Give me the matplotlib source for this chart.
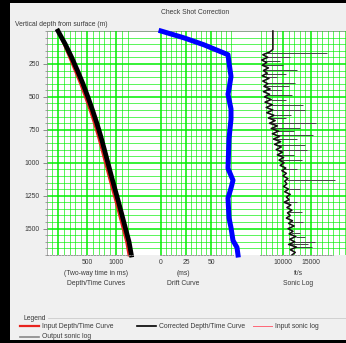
import matplotlib
matplotlib.use('Agg')
import matplotlib.pyplot as plt
import numpy as np
from matplotlib.ticker import MultipleLocator, FixedLocator
from matplotlib.lines import Line2D
from matplotlib.patches import Rectangle

plt.rcParams['font.family'] = ['Liberation Sans', 'DejaVu Sans']

# depth/time curves (depth m, two-way time ms)
dt_depth = [0, 100, 200, 300, 400, 500, 600, 700, 800, 900, 1000, 1100, 1200,
            1300, 1400, 1500, 1600, 1700]
t_corrected = [0, 125, 235, 335, 430, 515, 595, 670, 738, 800, 860, 920, 982,
               1045, 1105, 1165, 1225, 1265]
t_input = [0, 105, 200, 295, 388, 472, 552, 627, 695, 757, 817, 877, 939,
           1002, 1062, 1122, 1182, 1222]

# drift curve (depth m, drift ms)
drift_depth = [0, 52, 105, 158, 180, 240, 345, 442, 480, 592, 668, 818, 1043,
               1133, 1193, 1268, 1418, 1493, 1590, 1643, 1700]
drift_ms = [0, 23, 43, 60, 67, 68, 70, 68, 67, 70, 70, 68, 67,
            72, 70, 67, 68, 70, 72, 76, 77]

# sonic log (depth m, velocity ft/s)
sonic_depth = [0, 140, 160, 180, 200, 220, 240, 260, 280, 300, 320, 340, 360,
               380, 400, 420, 440, 460, 480, 500, 520, 540, 560, 580, 600,
               620, 640, 660, 680, 700, 720, 740, 760, 780, 800, 820, 840,
               860, 880, 900, 920, 940, 960, 980, 1000, 1020, 1040, 1060,
               1080, 1100, 1120, 1140, 1160, 1180, 1200, 1220, 1240, 1260,
               1280, 1300, 1320, 1340, 1360, 1380, 1400, 1420, 1440, 1460,
               1480, 1500, 1520, 1540, 1560, 1580, 1600, 1620, 1640, 1660,
               1680, 1700]
sonic_out = [8200, 8200, 7600, 6400, 7300, 6200, 7100, 6300, 7400, 6500, 7200,
             6300, 7500, 6400, 7300, 6600, 7700, 6500, 7600, 6700, 7900, 6800,
             8100, 7000, 8200, 7100, 8400, 7400, 8600, 7600, 9000, 7900, 9200,
             8100, 9400, 8300, 9600, 8500, 9700, 8800, 9900, 9000, 10100, 9300,
             10200, 9500, 10500, 9800, 10600, 10000, 10900, 10300, 10700,
             10100, 11000, 10300, 11300, 10600, 11100, 10200, 11400, 10700,
             11600, 10800, 11300, 10600, 11700, 11000, 12000, 10900, 11800,
             11100, 12300, 11200, 12100, 11000, 12400, 11300, 12200, 11600]
spike_depth = [167, 197, 230, 260, 296, 330, 350, 394, 420, 450, 485, 520,
               561, 599, 640, 660, 697, 735, 760, 788, 820, 864, 902, 940,
               978, 1050, 1129, 1200, 1300, 1372, 1450, 1530, 1560, 1599,
               1620, 1637]
spike_val = [17860, 11250, 9500, 10000, 12500, 10500, 9000, 12140, 11000,
             9800, 11600, 10500, 13570, 13930, 11500, 10500, 15900, 13040,
             12000, 15360, 12500, 13930, 14290, 12000, 13400, 12500, 19290,
             13000, 12500, 13400, 13500, 13000, 14000, 15710, 14500, 15180]

W, H = 346, 343
def fx(p):
    return p / W
def fy(p):
    return 1 - p / H

fig = plt.figure(figsize=(W / 100, H / 100), dpi=100)
fig.patch.set_facecolor('#f0f0f0')

green = '#00ee00'
txt = '#3a3a3a'
fs = 4.9

# background with horizontal grid
bg = fig.add_axes([fx(47), fy(255), fx(346) - fx(47), fy(31) - fy(255)])
bg.set_facecolor('white')
bg.set_ylim(1700, 0)
bg.set_xlim(0, 1)
bg.yaxis.set_major_locator(FixedLocator([250, 500, 750, 1000, 1250, 1500]))
bg.yaxis.set_minor_locator(MultipleLocator(50))
bg.set_xticks([])
bg.grid(axis='y', which='major', color=green, lw=1.1)
bg.grid(axis='y', which='minor', color=green, lw=0.6, alpha=0.75)
bg.tick_params(axis='y', which='major', labelsize=fs, labelcolor=txt,
               length=3, width=0.5, color='#666666', pad=2)
bg.tick_params(axis='y', which='minor', length=1.5, width=0.4, color='#666666')
for s in ['right', 'bottom']:
    bg.spines[s].set_visible(False)
bg.spines['top'].set_color('#999999')
bg.spines['top'].set_linewidth(0.6)
bg.spines['left'].set_color('#888888')
bg.spines['left'].set_linewidth(0.5)
bg.set_axisbelow(True)

def panel(x0, x1, xlim, major, labels, minor, label, lab_x, bound=None):
    ax = fig.add_axes([fx(x0), fy(255), (x1 - x0) / W, fy(31) - fy(255)])
    ax.set_facecolor('none')
    ax.set_xlim(*xlim)
    ax.set_ylim(1700, 0)
    ax.set_yticks([])
    ax.xaxis.set_major_locator(FixedLocator(major))
    ax.set_xticklabels(labels)
    ax.xaxis.set_minor_locator(MultipleLocator(minor))
    ax.grid(axis='x', which='major', color=green, lw=1.1)
    ax.grid(axis='x', which='minor', color=green, lw=0.6, alpha=0.75)
    ax.set_axisbelow(True)
    for s in ['top', 'left', 'right']:
        ax.spines[s].set_visible(False)
    ax.spines['bottom'].set_color('#888888')
    ax.spines['bottom'].set_linewidth(0.6)
    ax.spines['bottom'].set_linestyle((0, (2, 1.5)))
    if bound is not None:
        ax.spines['bottom'].set_bounds(*bound)
    ax.tick_params(axis='x', which='major', labelsize=fs, labelcolor=txt,
                   length=0, pad=3)
    ax.tick_params(axis='x', which='minor', length=0)
    ax.set_xlabel(label, fontsize=fs, color=txt, linespacing=1.6,
                  va='top', ha='center')
    ax.xaxis.set_label_coords((lab_x - x0) / (x1 - x0), -0.066)
    return ax

ax1 = panel(47, 133, (-190, 1293), [0, 500, 1000], ['', '500', '1000'], 100,
            '(Two-way time in ms)\nDepth/Time Curves', 96)
ax1.plot(t_input, dt_depth, color='#e8231e', lw=2.0, clip_on=False)
ax1.plot(t_corrected, dt_depth, color='black', lw=3.4, clip_on=False)

ax2 = panel(160, 233, (-1, 72), [0, 25, 50], ['0', '25', '50'], 5,
            '(ms)\nDrift Curve', 183)
ax2.plot(drift_ms, drift_depth, color='#0000ff', lw=3.6, clip_on=False)

ax3 = panel(260, 346, (5900, 21250), [10000, 15000], ['10000', '15000'],
            1000, 'ft/s\nSonic Log', 298, bound=(5900, 18900))
spike_base = np.interp(spike_depth, sonic_depth, sonic_out)
ax3.plot(sonic_out, sonic_depth, color='#ff6677', lw=0.5, clip_on=False)
ax3.hlines(spike_depth, spike_base, spike_val, color='#444444', lw=0.7)
ax3.plot(sonic_out, sonic_depth, color='#111111', lw=1.1, clip_on=False)

# texts
fig.text(fx(195), fy(13), 'Check Shot Correction', fontsize=fs, color=txt,
         ha='center', va='center')
fig.text(fx(15), fy(24), 'Vertical depth from surface (m)', fontsize=fs,
         color=txt, ha='left', va='center')

# legend block
fig.add_artist(Line2D([fx(48), fx(346)], [fy(318), fy(318)], color='#cccccc',
                      lw=0.6))
fig.text(fx(24), fy(318), 'Legend', fontsize=fs, color=txt, ha='left',
         va='center')
leg = [(20, 326, '#e8231e', 1.6, 'Input Depth/Time Curve'),
       (137, 326, 'black', 1.2, 'Corrected Depth/Time Curve'),
       (253, 326, '#ff6677', 0.7, 'Input sonic log'),
       (20, 337, '#888888', 1.2, 'Output sonic log')]
for x0, y0, c, lw, lab in leg:
    fig.add_artist(Line2D([fx(x0), fx(x0 + 19)], [fy(y0), fy(y0)], color=c,
                          lw=lw))
    fig.text(fx(x0 + 22), fy(y0), lab, fontsize=fs, color=txt, ha='left',
             va='center')

# screenshot frame
for r in [(0, 0, 10, 343), (0, 0, 346, 3), (0, 340, 346, 3)]:
    fig.add_artist(Rectangle((fx(r[0]), fy(r[1] + r[3])), r[2] / W, r[3] / H,
                             transform=fig.transFigure, color='black', lw=0))

fig.savefig('out.png', dpi=100, facecolor=fig.get_facecolor())
